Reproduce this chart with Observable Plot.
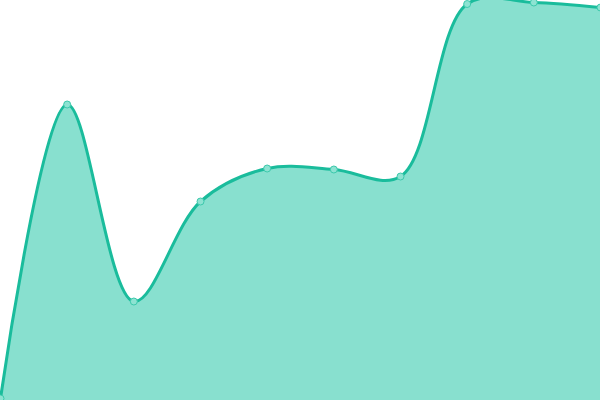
<!DOCTYPE html>
<html>
<head>
<meta charset="utf-8">
<script src="https://cdn.jsdelivr.net/npm/d3@7"></script>
<script src="https://cdn.jsdelivr.net/npm/@observablehq/plot@0.6"></script>
<style>
  html, body { margin: 0; padding: 0; background: #fff; }
  svg { overflow: hidden; }
</style>
</head>
<body>
<div id="chart"></div>
<script>
const indices = [0, 1, 2, 3, 4, 5, 6, 7, 8, 9];
const values = [2, 296, 99, 199, 232, 231, 224, 396.5, 398, 393];
const data = indices.map((i) => ({x: i, y: values[i]}));

const chart = Plot.plot({
  width: 600,
  height: 400,
  margin: 0,
  x: {domain: [0, 9], axis: null},
  y: {domain: [0, 400], axis: null},
  marks: [
    Plot.areaY(data, {x: "x", y: "y", curve: "catmull-rom", fill: "#88e0cf"}),
    Plot.lineY(data, {x: "x", y: "y", curve: "catmull-rom", stroke: "#1abc9c", strokeWidth: 3}),
    Plot.dot(data, {x: "x", y: "y", r: 3.5, fill: "#8de3d2", stroke: "#3cc9ac", strokeWidth: 1})
  ]
});
chart.style.overflow = "hidden";
document.getElementById("chart").appendChild(chart);
</script>
</body>
</html>
